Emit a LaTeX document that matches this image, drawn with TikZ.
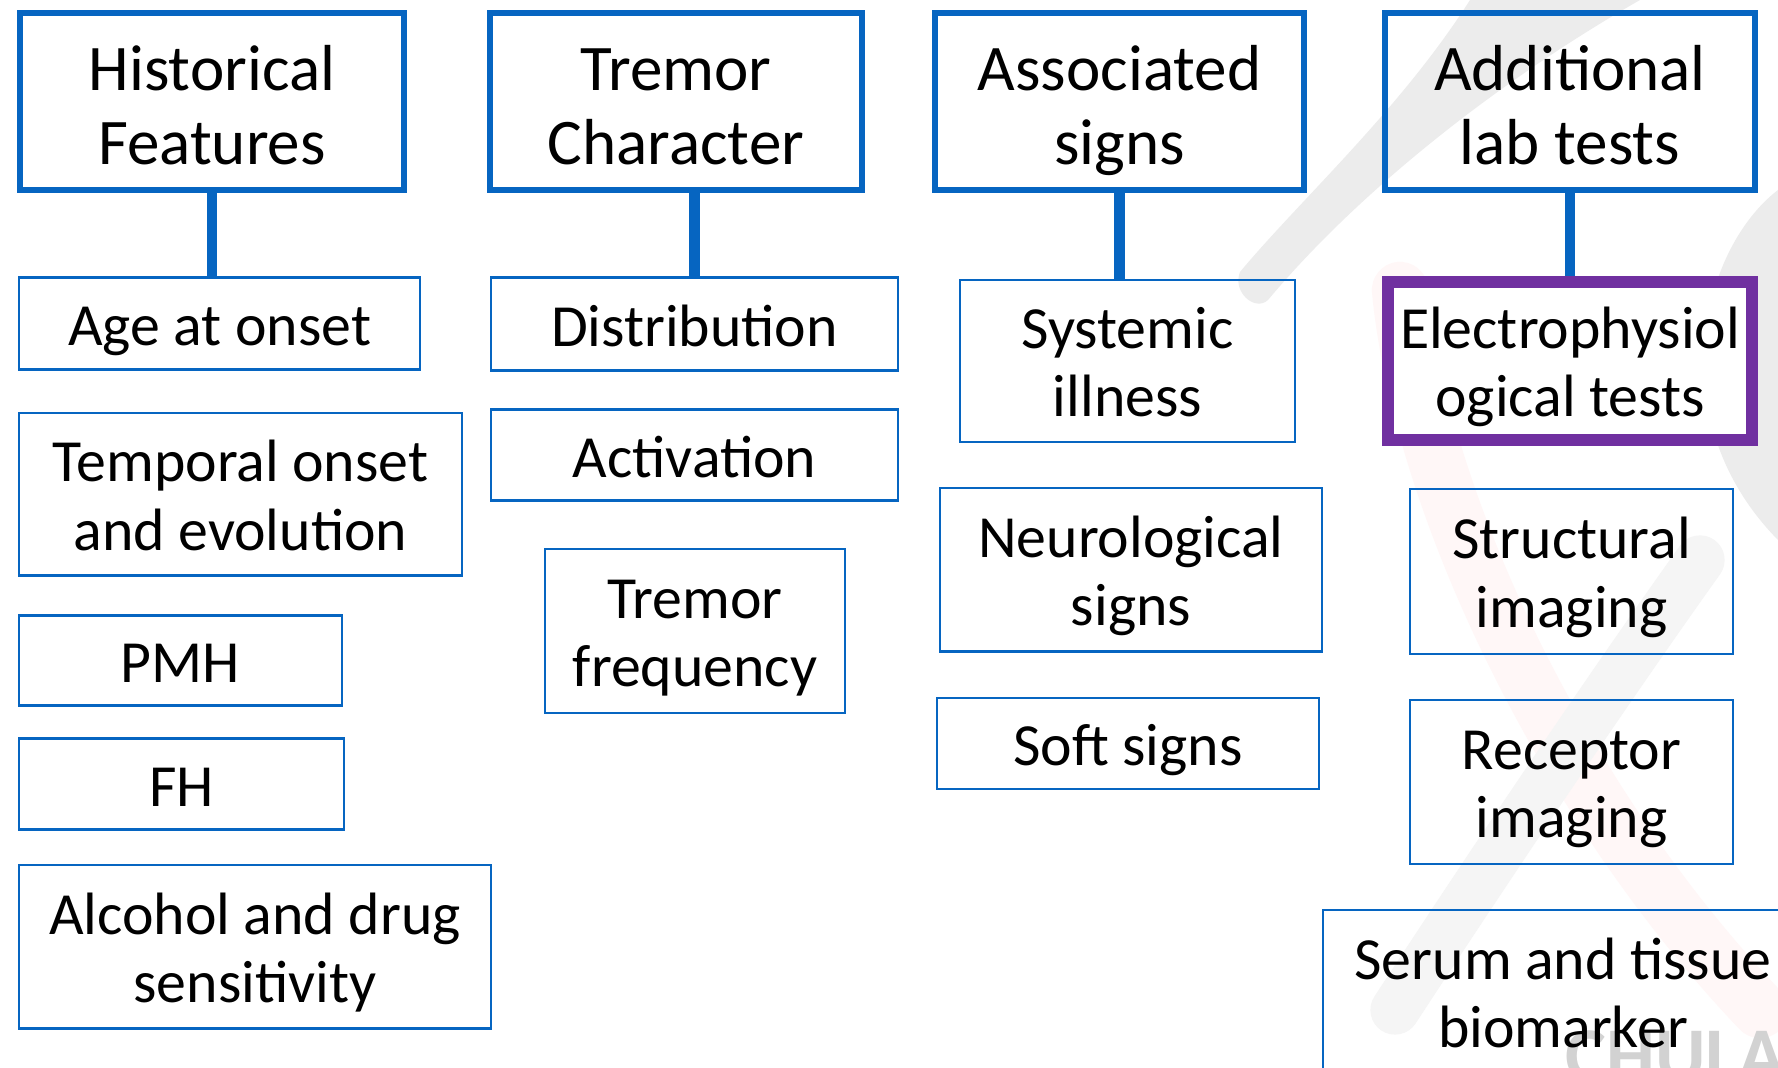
\documentclass[tikz,border=0pt]{standalone}
\usepackage{fontspec}
\setmainfont{Carlito}
\usetikzlibrary{shadows}

\definecolor{boxblue}{RGB}{6,101,193}
\definecolor{boxpurple}{RGB}{112,48,160}
\newcommand{\headfont}{\fontsize{18.5}{21.3}\selectfont}
\newcommand{\itemfont}{\fontsize{17}{19.4}\selectfont}

\tikzset{
  head/.style={draw=boxblue, line width=1.7pt, align=center, font=\headfont, inner sep=0pt,
    text height=36.1pt, text depth=0pt},
  item/.style={draw=boxblue, line width=0.6pt, align=center, font=\itemfont, inner sep=0pt,
    text height=12.8pt, text depth=0pt},
  twoline/.style={text height=31.6pt},
  chosen/.style={item, twoline, draw=boxpurple, line width=3.4pt, fill=white,
    drop shadow={shadow xshift=1pt, shadow yshift=-1.5pt, opacity=0.35}},
  link/.style={draw=boxblue, line width=3.1pt}
}

\begin{document}
\begin{tikzpicture}[x=0.01cm, y=-0.01cm]
    \clip (0,0) rectangle (1778,1068);
    \fill[white] (0,0) rectangle (1778,1068);

    % faint logo in the back
    \draw[red!3, line width=16pt, line cap=round] (1400,290) .. controls (1420,500) and (1560,800) .. (1760,1010);
    \draw[gray!8, line width=14pt, line cap=round] (1395,1010) .. controls (1480,880) and (1600,700) .. (1700,560);
    \fill[gray!15] (1240,272) .. controls (1300,200) and (1400,110) .. (1470,0) -- (1640,0) .. controls (1500,80) and (1360,190) .. (1268,300) .. controls (1255,312) and (1232,292) .. (1240,272) -- cycle;
    \fill[gray!15] (1778,190) .. controls (1700,250) and (1660,420) .. (1778,540) -- cycle;
    \node[anchor=north west, inner sep=0pt, text=gray!35, font=\fontsize{22}{22}\bfseries] (wm) at (1565,1030) {CHULA};

    % column 1
    \node[head, minimum width=3.84cm, minimum height=1.77cm] (hist) at (212,101.5) {Historical\\Features};
    \node[item, minimum width=4.00cm, minimum height=0.92cm] (age) at (219.5,323.5) {Age at onset};
    \node[item, twoline, minimum width=4.42cm, minimum height=1.62cm] (temp) at (240.5,494.5) {Temporal onset\\and evolution};
    \node[item, minimum width=3.22cm, minimum height=0.90cm] (pmh) at (180.5,660.5) {PMH};
    \node[item, minimum width=3.24cm, minimum height=0.91cm] (fh) at (181.5,784) {FH};
    \node[item, twoline, minimum width=4.71cm, minimum height=1.63cm] (alc) at (255,947) {Alcohol and drug\\sensitivity};

    % column 2
    \node[head, minimum width=3.72cm, minimum height=1.77cm] (trem) at (676,101.5) {Tremor\\Character};
    \node[item, minimum width=4.06cm, minimum height=0.93cm] (dist) at (694.5,324) {Distribution};
    \node[item, minimum width=4.06cm, minimum height=0.91cm] (act) at (694.5,455) {Activation};
    \node[item, twoline, minimum width=3.00cm, minimum height=1.64cm] (freq) at (695,631) {Tremor\\frequency};

    % column 3
    \node[head, minimum width=3.69cm, minimum height=1.77cm] (assoc) at (1119.5,101.5) {Associated\\signs};
    \node[item, twoline, minimum width=3.35cm, minimum height=1.62cm] (syst) at (1127.5,361) {Systemic\\illness};
    \node[item, twoline, minimum width=3.82cm, minimum height=1.63cm] (neuro) at (1131,570) {Neurological\\signs};
    \node[item, minimum width=3.82cm, minimum height=0.91cm] (soft) at (1128,743.5) {Soft signs};

    % column 4
    \node[head, minimum width=3.70cm, minimum height=1.77cm] (addl) at (1570,101.5) {Additional\\lab tests};
    \node[chosen, minimum width=3.64cm, minimum height=1.58cm] (elec) at (1570,361) {Electrophysiol\\ogical tests};
    \node[item, twoline, minimum width=3.23cm, minimum height=1.65cm] (struc) at (1571.5,571.5) {Structural\\imaging};
    \node[item, twoline, minimum width=3.23cm, minimum height=1.64cm] (recep) at (1571.5,782) {Receptor\\imaging};
    \node[item, twoline, minimum width=4.80cm, minimum height=1.64cm] (serum) at (1563,992) {Serum and tissue\\biomarker};

    \draw[link] (hist.south) -- (hist.south |- age.north);
    \draw[link] (dist.north) -- (dist.north |- trem.south);
    \draw[link] (assoc.south) -- (assoc.south |- syst.north);
    \draw[link] (addl.south) -- (addl.south |- elec.north);
\end{tikzpicture}
\end{document}
